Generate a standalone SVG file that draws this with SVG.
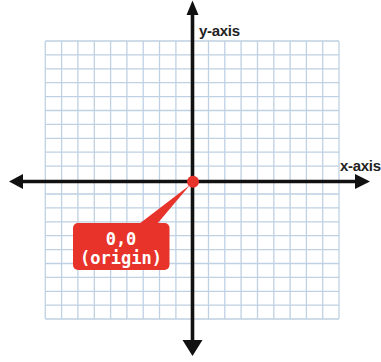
<svg xmlns="http://www.w3.org/2000/svg" width="381" height="362" viewBox="0 0 381 362">
<style>
.g{stroke:#bfd1e3;stroke-width:1.3;fill:none}
.ax{stroke:#111;stroke-width:3.6;fill:none}
.lbl{font-family:"Liberation Sans",Arial,sans-serif;font-weight:bold;font-size:15px;letter-spacing:-0.3px;fill:#222}
.mono{font-family:"DejaVu Sans Mono","Liberation Mono",monospace;font-weight:bold;font-size:17px;fill:#fff;text-anchor:middle}
</style>
<rect width="381" height="362" fill="#fff"/>
<g id="grid">
<path class="g" d="M45.3,41V319M61.6,41V319M77.9,41V319M94.3,41V319M110.6,41V319M126.9,41V319M143.2,41V319M159.5,41V319M175.9,41V319M208.5,41V319M224.8,41V319M241.1,41V319M257.5,41V319M273.8,41V319M290.1,41V319M306.4,41V319M322.7,41V319M339,41V319"/>
<path class="g" d="M45.3,41H339M45.3,54.9H339M45.3,68.8H339M45.3,82.7H339M45.3,96.6H339M45.3,110.5H339M45.3,124.4H339M45.3,138.3H339M45.3,152.2H339M45.3,166.1H339M45.3,194H339M45.3,207.9H339M45.3,221.8H339M45.3,235.7H339M45.3,249.6H339M45.3,263.5H339M45.3,277.4H339M45.3,291.3H339M45.3,305.2H339M45.3,319H339"/>
</g>
<g id="connectors">
<path class="ax" d="M20,181.5H356"/>
<path class="ax" d="M192.5,12V344"/>
<polygon points="9,181.5 23,174 23,189" fill="#111"/>
<polygon points="370,181.5 355,174 355,189" fill="#111"/>
<polygon points="192.5,0.5 186.5,15 198.5,15" fill="#111"/>
<polygon points="192.5,356 182.5,340 202.5,340" fill="#111"/>
<polygon points="139,224 157,224 190,185" fill="#e8332a"/>
</g>
<g id="x-axis-label"><text class="lbl" x="340" y="170.5" font-size="14.5px">x-axis</text></g>
<g id="y-axis-label"><text class="lbl" x="199" y="35.5">y-axis</text></g>
<g id="origin"><circle cx="193" cy="181.7" r="6" fill="#e8332a"/></g>
<g id="callout">
<rect x="73" y="223" width="96.5" height="47" rx="5" fill="#e8332a"/>
<text class="mono" x="121" y="244.5">0,0</text>
<text class="mono" x="121" y="263.5">(origin)</text>
</g>
</svg>
